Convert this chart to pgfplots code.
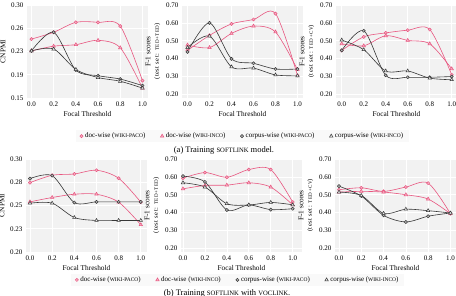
\documentclass[border=0pt]{standalone}
\usepackage{pgfplots}
\pgfplotsset{compat=1.18}
\usepackage{fontspec}
\setmainfont{Liberation Serif}
\definecolor{pk}{RGB}{232,86,128}
\definecolor{pkf}{RGB}{246,178,196}
\definecolor{dk}{RGB}{55,55,55}
\definecolor{bg}{RGB}{242,242,242}
\newcommand\fsc[1]{\scalebox{0.78}{#1}}
\newcommand\paren[1]{{\fontsize{6.5}{7.5}\selectfont\addfontfeatures{LetterSpace=8}#1}}
\pgfplotsset{
  panel/.style={
    anchor=south west, scale only axis, width=121pt, height=93pt,
    xtick={0,0.2,0.4,0.6,0.8,1.0},
    xticklabels={0.0,0.2,0.4,0.6,0.8,1.0},
    axis background/.style={fill=bg},
    axis line style={draw=none},
    major tick length=0pt,
    grid=major, major grid style={white, line width=0.7pt},
    tick label style={font=\fontsize{7}{8}\selectfont},
    /pgf/number format/assume math mode=true,
    label style={font=\fontsize{7.3}{8.5}\selectfont},
    xlabel={Focal Threshold},
    xlabel style={yshift=2pt},
    ylabel style={align=center, yshift=-1pt},
    every axis plot/.append style={smooth, line width=0.6pt},
    legend image code/.code={\draw[##1] plot[only marks] coordinates {(0.1cm,0cm)};},
  },
  f1/.style={ymin=0.18, ymax=0.70, ytick={0.2,0.3,0.4,0.5,0.6,0.7},
    yticklabels={0.20,0.30,0.40,0.50,0.60,0.70}},
  leg/.style={legend columns=4, legend cell align=left,
    legend style={draw=none, fill=gray!5, font=\fontsize{7}{8}\selectfont,
      anchor=center, inner xsep=4pt, inner ysep=1pt,
      /tikz/every even column/.append style={column sep=13pt}}},
  dp/.style={color=pk, mark=*, mark size=1.6pt, mark options={fill=pkf, draw=pk, line width=0.5pt}},
  di/.style={color=pk, mark=triangle*, mark size=2pt, mark options={fill=pkf, draw=pk, line width=0.5pt}},
  cp/.style={color=dk, mark=*, mark size=1.6pt, mark options={fill=gray!55, draw=dk, line width=0.5pt}},
  ci/.style={color=dk, mark=triangle*, mark size=2pt, mark options={fill=gray!15, draw=dk, line width=0.5pt}},
}
\begin{document}
\begin{tikzpicture}[x=1pt,y=1pt]
\path[use as bounding box] (0,0) rectangle (456,296);
% ---------------- row (a) ----------------
\begin{axis}[panel, at={(27pt,198pt)}, xmin=-0.04, xmax=1.05,
  ymin=0.15, ymax=0.30, ytick={0.15,0.1875,0.225,0.2625,0.30},
  yticklabels={0.15,0.19,0.23,0.26,0.30}, ylabel={CNPMI}]
\addplot[dp] coordinates {(0,0.245)(0.2,0.256)(0.4,0.272)(0.6,0.272)(0.8,0.266)(1.0,0.178)};
\addplot[di] coordinates {(0,0.226)(0.2,0.2336)(0.4,0.236)(0.6,0.243)(0.8,0.231)(1.0,0.166)};
\addplot[cp] coordinates {(0,0.226)(0.2,0.256)(0.4,0.195)(0.6,0.186)(0.8,0.1805)(1.0,0.170)};
\addplot[ci] coordinates {(0,0.226)(0.2,0.229)(0.4,0.196)(0.6,0.183)(0.8,0.177)(1.0,0.166)};
\end{axis}
\begin{axis}[panel, f1, leg, at={(182pt,198pt)}, xmin=-0.05, xmax=1.05,
  ylabel={F-1 scores\\\paren{(test set: \fsc{TED+TED})}},
  legend style={at={(0.5,-0.41)}}]
\addplot[dp] coordinates {(0,0.446)(0.2,0.530)(0.4,0.594)(0.6,0.619)(0.8,0.652)(1.0,0.306)};
\addplot[di] coordinates {(0,0.476)(0.2,0.462)(0.4,0.541)(0.6,0.582)(0.8,0.549)(1.0,0.338)};
\addplot[cp] coordinates {(0,0.438)(0.2,0.600)(0.4,0.399)(0.6,0.374)(0.8,0.342)(1.0,0.342)};
\addplot[ci] coordinates {(0,0.462)(0.2,0.526)(0.4,0.354)(0.6,0.347)(0.8,0.309)(1.0,0.304)};
\legend{doc-wise (\fsc{WIKI-PACO}), doc-wise (\fsc{WIKI-INCO}), corpus-wise (\fsc{WIKI-PACO}), corpus-wise (\fsc{WIKI-INCO})}
\end{axis}
\begin{axis}[panel, f1, at={(336pt,198pt)}, xmin=-0.052, xmax=1.048,
  ylabel={F-1 scores\\\paren{(test set: \fsc{TED+CV})}}]
\addplot[dp] coordinates {(0,0.446)(0.2,0.522)(0.4,0.544)(0.6,0.559)(0.8,0.563)(1.0,0.310)};
\addplot[di] coordinates {(0,0.483)(0.2,0.472)(0.4,0.528)(0.6,0.502)(0.8,0.483)(1.0,0.343)};
\addplot[cp] coordinates {(0,0.446)(0.2,0.556)(0.4,0.307)(0.6,0.296)(0.8,0.296)(1.0,0.300)};
\addplot[ci] coordinates {(0,0.504)(0.2,0.450)(0.4,0.331)(0.6,0.331)(0.8,0.291)(1.0,0.282)};
\end{axis}
\node at (224,146) {\fontsize{8.5}{10}\selectfont (a) Training \fsc{SOFTLINK} model.};
% ---------------- row (b) ----------------
\begin{axis}[panel, at={(26pt,44pt)}, xmin=-0.036, xmax=1.056,
  ymin=0.20, ymax=0.30, ytick={0.20,0.225,0.25,0.275,0.30},
  yticklabels={0.20,0.23,0.25,0.28,0.30}, ylabel={CNPMI}]
\addplot[dp] coordinates {(0,0.2746)(0.2,0.2825)(0.4,0.2839)(0.6,0.2879)(0.8,0.2793)(1.0,0.2536)};
\addplot[di] coordinates {(0,0.2539)(0.2,0.2586)(0.4,0.2621)(0.6,0.2621)(0.8,0.2536)(1.0,0.2293)};
\addplot[cp] coordinates {(0,0.2789)(0.2,0.2821)(0.4,0.2532)(0.6,0.2539)(0.8,0.2539)(1.0,0.2539)};
\addplot[ci] coordinates {(0,0.2525)(0.2,0.2525)(0.4,0.2371)(0.6,0.2339)(0.8,0.2339)(1.0,0.2339)};
\end{axis}
\begin{axis}[panel, f1, leg, at={(181pt,44pt)}, xmin=-0.018, xmax=1.085,
  ylabel={F-1 scores\\\paren{(test set: \fsc{TED+TED})}},
  legend style={at={(0.47,-0.30)}}]
\addplot[dp] coordinates {(0,0.593)(0.2,0.624)(0.4,0.598)(0.6,0.641)(0.8,0.641)(1.0,0.459)};
\addplot[di] coordinates {(0,0.533)(0.2,0.552)(0.4,0.554)(0.6,0.567)(0.8,0.543)(1.0,0.444)};
\addplot[cp] coordinates {(0,0.604)(0.2,0.572)(0.4,0.415)(0.6,0.443)(0.8,0.417)(1.0,0.422)};
\addplot[ci] coordinates {(0,0.567)(0.2,0.543)(0.4,0.450)(0.6,0.443)(0.8,0.457)(1.0,0.444)};
\legend{doc-wise (\fsc{WIKI-PACO}), doc-wise (\fsc{WIKI-INCO}), corpus-wise (\fsc{WIKI-PACO}), corpus-wise (\fsc{WIKI-INCO})}
\end{axis}
\begin{axis}[panel, f1, at={(335pt,44pt)}, xmin=-0.036, xmax=1.05,
  ylabel={F-1 scores\\\paren{(test set: \fsc{TED+CV})}}]
\addplot[dp] coordinates {(0,0.528)(0.2,0.539)(0.4,0.519)(0.6,0.543)(0.8,0.565)(1.0,0.394)};
\addplot[di] coordinates {(0,0.515)(0.2,0.519)(0.4,0.515)(0.6,0.500)(0.8,0.476)(1.0,0.394)};
\addplot[cp] coordinates {(0,0.548)(0.2,0.493)(0.4,0.385)(0.6,0.348)(0.8,0.380)(1.0,0.398)};
\addplot[ci] coordinates {(0,0.515)(0.2,0.496)(0.4,0.396)(0.6,0.419)(0.8,0.411)(1.0,0.398)};
\end{axis}
\node at (227,2.5) {\fontsize{8.5}{10}\selectfont (b) Training \fsc{SOFTLINK} with \fsc{VOCLINK}.};
\end{tikzpicture}
\end{document}
